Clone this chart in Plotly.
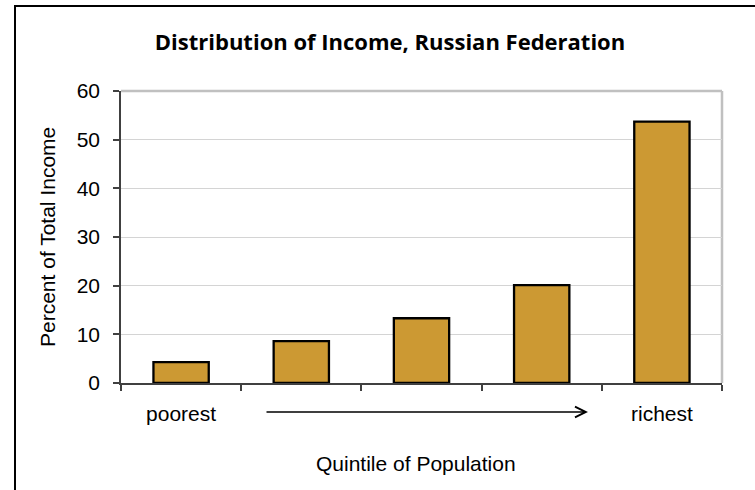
import plotly.graph_objects as go

categories = ["Q1", "Q2", "Q3", "Q4", "Q5"]
tick_labels = ["poorest", "", "", "", "richest"]
income_share = [4.3, 8.6, 13.3, 20.1, 53.7]

W, H = 755, 490
L, R, T, B = 121, 33, 91, 107
pw, ph = W - L - R, H - T - B


def px_x(px):
    return (px - L) / pw


def px_y(py):
    return (H - B - py) / ph


fig = go.Figure()
fig.add_trace(go.Bar(
    x=categories, y=income_share, width=0.46,
    marker=dict(color="#CC9933", line=dict(color="#000000", width=2.3)),
    hoverinfo="y",
))

font_main = "Liberation Sans, Arial, sans-serif"

fig.update_layout(
    width=W, height=H,
    margin=dict(l=L, r=R, t=T, b=B, pad=0),
    paper_bgcolor="white", plot_bgcolor="white",
    showlegend=False,
    font=dict(family=font_main, size=21, color="#000000"),
    title=dict(
        text="<b>Distribution of Income, Russian Federation</b>",
        font=dict(family="Open Sans, Noto Sans, sans-serif", size=22, color="#000000"),
        x=px_x(390), xanchor="center", xref="paper",
        y=1 - 42 / H, yanchor="middle",
    ),
    xaxis=dict(
        type="category",
        tickmode="array", tickvals=categories, ticktext=tick_labels,
        tickson="boundaries", ticks="outside", ticklen=6, tickwidth=1.5, tickcolor="#404040",
        showline=True, linecolor="#404040", linewidth=1.5,
        showgrid=False, zeroline=False,
        ticklabelstandoff=11,
        tickfont=dict(family=font_main, size=21),
        fixedrange=True,
    ),
    yaxis=dict(
        range=[0, 60], dtick=10, tick0=0,
        ticks="outside", ticklen=6, tickwidth=1.5, tickcolor="#404040",
        showline=True, linecolor="#404040", linewidth=1.5,
        showgrid=True, gridcolor="#d4d4d4", gridwidth=1,
        zeroline=False,
        ticklabelstandoff=9,
        tickfont=dict(family=font_main, size=21),
        fixedrange=True,
    ),
)

# axis titles
fig.add_annotation(text="Quintile of Population", xref="paper", yref="paper",
                   x=px_x(416), y=px_y(463), xanchor="center", yanchor="middle",
                   showarrow=False, font=dict(family=font_main, size=21))
fig.add_annotation(text="Percent of Total Income", xref="paper", yref="paper",
                   x=px_x(47), y=px_y(237), xanchor="center", yanchor="middle",
                   textangle=-90, showarrow=False, font=dict(family=font_main, size=21))

# plot-area top/right border (light gray)
fig.add_shape(type="line", xref="paper", yref="paper", x0=0, x1=1, y0=1, y1=1,
              line=dict(color="#c0c0c0", width=2.5), layer="below")
fig.add_shape(type="line", xref="paper", yref="paper", x0=1, x1=1, y0=0, y1=1,
              line=dict(color="#c0c0c0", width=2.5), layer="below")

# outer frame
fig.add_shape(type="rect", xref="paper", yref="paper",
              x0=px_x(15), x1=px_x(765), y0=px_y(500), y1=px_y(6),
              line=dict(color="#000000", width=2))

# arrow from poorest to richest
fig.add_annotation(
    xref="paper", yref="paper",
    x=px_x(588), y=px_y(412),
    ax=265 - 588, ay=0, axref="pixel", ayref="pixel",
    text="", showarrow=True, arrowhead=5, arrowsize=1.4, arrowwidth=1.5,
    arrowcolor="#000000",
)

fig.write_html("out.html", config={"displayModeBar": False},
               post_script="document.body.style.margin='0';document.body.style.overflow='hidden';")
